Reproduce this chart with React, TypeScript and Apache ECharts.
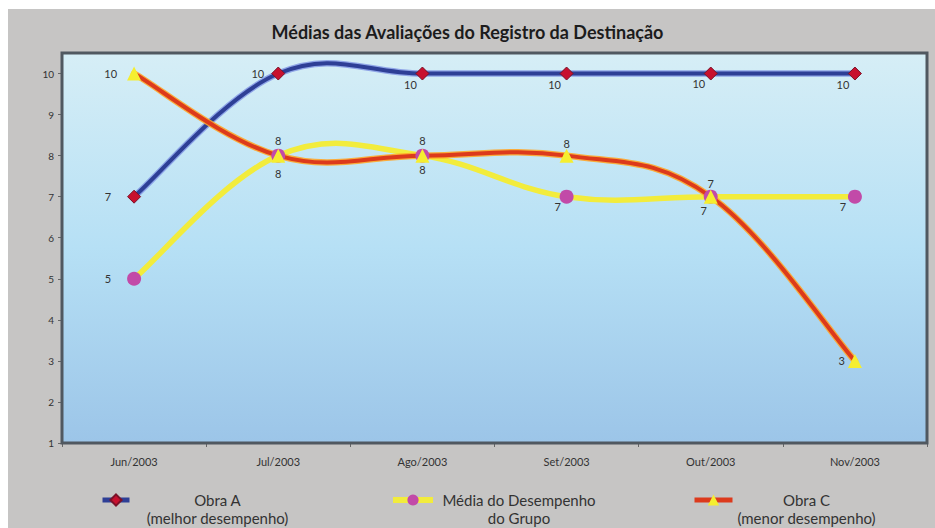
import { useEffect, useRef } from "react";
import * as echarts from "echarts";

// ---- data ----
const months = ["Jun/2003", "Jul/2003", "Ago/2003", "Set/2003", "Out/2003", "Nov/2003"];
const obraA = [7, 10, 10, 10, 10, 10];
const mediaGrupo = [5, 8, 8, 7, 7, 7];
const obraC = [10, 8, 8, 8, 7, 3];
const yMin = 1;
const yMax = 10.5;
const yInterval = 1;

const seriesNames = ["Obra A", "Média do Desempenho do Grupo", "Obra C"];
const legendLines: Record<string, string[]> = {
  "Obra A": ["Obra A", "(melhor desempenho)"],
  "Média do Desempenho do Grupo": ["Média do Desempenho", "do Grupo"],
  "Obra C": ["Obra C", "(menor desempenho)"],
};
const titleText = "Médias das Avaliações do Registro da Destinação";

// ---- styles ----
const BLUE = "#2e3f96";
const YELLOW = "#f2ec3c";
const RED = "#dc3a1c";

// ---- label placement (style) ----
const labA = [
  { position: "left", distance: 16 },
  { position: "left", distance: 7 },
  { position: "bottom", distance: 0, offset: [-12, -2] },
  { position: "bottom", distance: 0, offset: [-12, -2] },
  { position: "bottom", distance: 0, offset: [-12, -3] },
  { position: "bottom", distance: 0, offset: [-12, -2] },
];
const labM = [
  { position: "left", distance: 16 },
  { position: "bottom", distance: 5.5 },
  { position: "bottom", distance: 1.5 },
  { position: "bottom", distance: 0, offset: [-9, -3] },
  { position: "bottom", distance: 1.5, offset: [-7, 0] },
  { position: "bottom", distance: 0, offset: [-12, -3] },
];
const labC = [
  { position: "left", distance: 10 },
  { position: "top", distance: 2.5 },
  { position: "top", distance: 2.5 },
  { position: "top", distance: 0 },
  { position: "top", distance: 0.5 },
  { position: "left", distance: 3 },
];

const FONT = "Lato, 'DejaVu Sans', sans-serif";
const labelBase = { show: true, fontSize: 11, color: "#333", fontFamily: FONT };
const TENSION = 0.19;

export default function App() {
  const ref = useRef<HTMLDivElement>(null);
  useEffect(() => {
    if (!ref.current) return;
    const chart = echarts.init(ref.current, undefined, { renderer: "svg" });

    const mk = (vals: number[], labs: any[]) =>
      vals.map((v, i) => ({ value: v, label: { ...labelBase, ...labs[i] } }));

    // smooth (Catmull-Rom) curve drawn through the library's coordinate system
    const curve = (id: string, vals: number[], color: string, width: number, glow?: string) => ({
      type: "custom",
      name: id,
      silent: true,
      data: vals.map((v, i) => [i, v]),
      encode: { x: 0, y: 1 },
      renderItem: (params: any, api: any) => {
        const i = params.dataIndex;
        const n = vals.length;
        if (i >= n - 1) return null;
        const P = (k: number) => {
          const c = Math.max(0, Math.min(n - 1, k));
          return api.coord([c, vals[c]]);
        };
        const p0 = P(i - 1), p1 = P(i), p2 = P(i + 1), p3 = P(i + 2);
        const shape = {
          x1: p1[0],
          y1: p1[1],
          x2: p2[0],
          y2: p2[1],
          cpx1: p1[0] + (p2[0] - p0[0]) * TENSION,
          cpy1: p1[1] + (p2[1] - p0[1]) * TENSION,
          cpx2: p2[0] - (p3[0] - p1[0]) * TENSION,
          cpy2: p2[1] - (p3[1] - p1[1]) * TENSION,
        };
        const children: any[] = [];
        if (glow) {
          children.push({
            type: "bezierCurve",
            shape,
            style: { stroke: glow, lineWidth: width + 2.5, fill: "none", lineCap: "round" },
          });
        }
        children.push({
          type: "bezierCurve",
          shape,
          style: { stroke: color, lineWidth: width, fill: "none", lineCap: "round" },
        });
        return { type: "group", children };
      },
    });

    const legendFor = (
      name: string,
      left: number,
      itemWidth: number,
      w: number,
      color: string,
      lw: number
    ) => ({
      data: [name],
      left,
      top: 475,
      padding: 0,
      itemWidth,
      itemHeight: 14,
      selectedMode: false,
      lineStyle: { color, width: lw, opacity: 1, type: "solid" },
      formatter: (n: string) =>
        ["{a| }", ...legendLines[n].map((l) => `{a|${l}}`)].join("\n"),
      textStyle: {
        rich: {
          a: {
            width: w,
            align: "center",
            fontSize: 15,
            lineHeight: 17.5,
            color: "#333",
            fontFamily: FONT,
          },
        },
      },
    });

    chart.setOption({
      animation: false,
      backgroundColor: "#ffffff",
      graphic: [
        {
          type: "rect",
          z: -10,
          silent: true,
          shape: { x: 8, y: 9, width: 935, height: 528 },
          style: { fill: "#c6c5c4" },
        },
      ],
      title: {
        text: titleText,
        left: "center",
        top: 23,
        padding: 0,
        textStyle: { fontSize: 18, fontWeight: "bold", color: "#1c1c1c", fontFamily: FONT },
      },
      legend: [
        legendFor(seriesNames[0], 100, 27, 166, BLUE, 5),
        legendFor(seriesNames[1], 390, 40, 162, YELLOW, 6),
        legendFor(seriesNames[2], 692, 38, 138, RED, 5),
      ],
      grid: {
        left: 62,
        right: 8,
        top: 53,
        bottom: 85,
        show: true,
        z: 1,
        borderColor: "#505860",
        borderWidth: 3,
        backgroundColor: new echarts.graphic.LinearGradient(0, 0, 0, 1, [
          { offset: 0, color: "#d6eef6" },
          { offset: 0.5, color: "#b6e0f5" },
          { offset: 1, color: "#9cc5e8" },
        ]),
      },
      xAxis: {
        type: "category",
        data: months,
        boundaryGap: true,
        axisLine: { show: false },
        axisTick: { show: true, length: 4, lineStyle: { color: "#666" } },
        axisLabel: { fontSize: 11, color: "#333", margin: 13, fontFamily: FONT },
      },
      yAxis: {
        type: "value",
        min: yMin,
        max: yMax,
        interval: yInterval,
        axisLine: { show: false },
        splitLine: { show: false },
        axisTick: { show: true, length: 4, lineStyle: { color: "#666" } },
        axisLabel: {
          fontSize: 10,
          color: "#333",
          margin: 8,
          fontFamily: FONT,
          showMaxLabel: false,
          formatter: (v: number) => (Number.isInteger(v) ? String(v) : ""),
        },
      },
      series: [
        curve("_curveA", obraA, BLUE, 4, "rgba(120,140,225,0.75)"),
        curve("_curveM", mediaGrupo, YELLOW, 5.5),
        curve("_curveC", obraC, RED, 4, "rgba(255,165,40,0.9)"),
        {
          name: seriesNames[0],
          type: "line",
          data: mk(obraA, labA),
          symbol: "diamond",
          symbolSize: 13,
          itemStyle: { color: "#c8102e", borderColor: "#7a1228", borderWidth: 1 },
          lineStyle: { color: BLUE, width: 4.5, opacity: 0 },
        },
        {
          name: seriesNames[1],
          type: "line",
          data: mk(mediaGrupo, labM),
          symbol: "circle",
          symbolSize: 14,
          itemStyle: { color: "#c24aa8" },
          lineStyle: { color: YELLOW, width: 5.5, opacity: 0 },
        },
        {
          name: seriesNames[2],
          type: "line",
          data: mk(obraC, labC),
          symbol: "triangle",
          symbolSize: 14,
          itemStyle: { color: "#f5ee30" },
          lineStyle: { color: RED, width: 5, opacity: 0 },
        },
      ],
    });
    return () => chart.dispose();
  }, []);
  return (
    <div
      ref={ref}
      style={{ position: "fixed", left: 0, top: 0, width: 935, height: 528 }}
    />
  );
}
